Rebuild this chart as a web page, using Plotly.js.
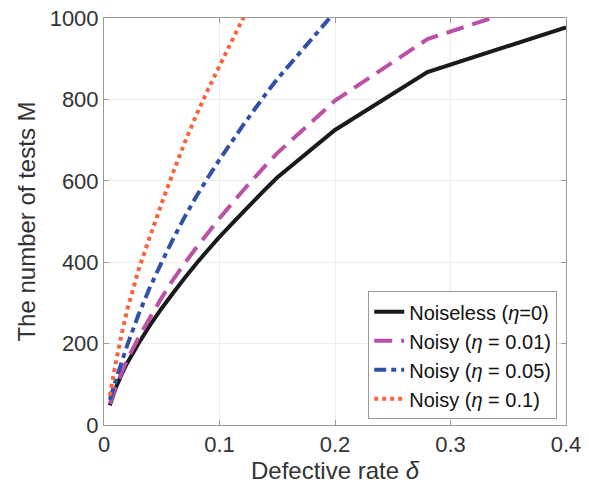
<!DOCTYPE html>
<html>
<head>
<meta charset="utf-8">
<script src="https://cdn.plot.ly/plotly-3.0.1.min.js"></script>
<style>html,body{margin:0;padding:0;background:#fff;}#chart{width:589px;height:485px;}</style>
</head>
<body>
<div id="chart"></div>
<script>
// Defective rate δ sample points and number of tests M per series
const deltaNoiseless = [0.005, 0.01, 0.015, 0.02, 0.03, 0.04, 0.05, 0.06, 0.07, 0.08, 0.09, 0.1, 0.12, 0.14, 0.15, 0.2, 0.28, 0.4];
const mNoiseless     = [48, 90, 123, 152, 201, 246, 287, 325, 362, 397, 430, 462, 522, 580, 608, 725, 867, 977];

const deltaEta001 = [0.005, 0.01, 0.015, 0.02, 0.03, 0.04, 0.05, 0.06, 0.07, 0.08, 0.09, 0.1, 0.12, 0.14, 0.15, 0.2, 0.28, 0.4];
const mEta001     = [52, 92, 127, 160, 215, 265, 313, 358, 398, 436, 472, 508, 575, 638, 668, 797, 948, 1060];

const deltaEta005 = [0.005, 0.01, 0.015, 0.02, 0.03, 0.04, 0.05, 0.06, 0.07, 0.08, 0.09, 0.1, 0.12, 0.14, 0.15, 0.2];
const mEta005     = [62, 108, 152, 195, 272, 340, 400, 458, 512, 562, 608, 652, 735, 813, 850, 1015];

const deltaEta01 = [0.005, 0.01, 0.015, 0.02, 0.03, 0.04, 0.05, 0.06, 0.07, 0.08, 0.09, 0.1, 0.12, 0.14];
const mEta01     = [72, 150, 220, 282, 382, 465, 545, 622, 695, 762, 824, 882, 997, 1100];

const seriesNames = ['Noiseless (<i>η</i>=0)', 'Noisy (<i>η</i> = 0.01)', 'Noisy (<i>η</i> = 0.05)', 'Noisy (<i>η</i> = 0.1)'];
const xTicks = [0, 0.1, 0.2, 0.3, 0.4];
const yTicks = [0, 200, 400, 600, 800, 1000];

const FONT = '"Liberation Sans", Arial, Helvetica, sans-serif';
const traces = [
  {x: deltaNoiseless, y: mNoiseless, name: seriesNames[0], mode: 'lines',
   line: {color: '#1a1a1a', width: 4, dash: 'solid', simplify: false}},
  {x: deltaEta001, y: mEta001, name: seriesNames[1], mode: 'lines',
   line: {color: '#bc4fa8', width: 4, dash: '18px,9px', simplify: false}},
  {x: deltaEta005, y: mEta005, name: seriesNames[2], mode: 'lines',
   line: {color: '#3050aa', width: 4, dash: '12px,5px,5px,5px', simplify: false}},
  {x: deltaEta01, y: mEta01, name: seriesNames[3], mode: 'lines',
   line: {color: '#f5643c', width: 4, dash: '4px,4px', simplify: false}}
];

const axisCommon = {
  showline: true, mirror: 'ticks', linecolor: '#9a9a9a', linewidth: 1,
  ticks: 'inside', ticklen: 5, tickcolor: '#9a9a9a',
  showgrid: true, gridcolor: '#ececec', gridwidth: 1, zeroline: false,
  tickfont: {family: FONT, size: 22, color: '#333'}
};

const layout = {
  width: 589, height: 485,
  margin: {l: 104, r: 23, t: 18, b: 60},
  paper_bgcolor: '#fff', plot_bgcolor: '#fff',
  font: {family: FONT, color: '#333'},
  showlegend: true,
  xaxis: Object.assign({}, axisCommon, {
    range: [0, 0.4], tickvals: xTicks, ticktext: xTicks.map(String),
    title: {text: 'Defective rate <i>δ</i>', font: {family: FONT, size: 24, color: '#333'}, standoff: 0}
  }),
  yaxis: Object.assign({}, axisCommon, {
    range: [0, 1000], tickvals: yTicks, ticktext: yTicks.map(String),
    title: {text: 'The number of tests M', font: {family: FONT, size: 24, color: '#333'}, standoff: 7}
  }),
  legend: {
    x: 0.981, y: 0.014, xanchor: 'right', yanchor: 'bottom',
    bgcolor: '#fff', bordercolor: '#999', borderwidth: 1,
    font: {family: FONT, size: 20, color: '#111'},
    itemwidth: 30, tracegroupgap: 0
  }
};

Plotly.newPlot('chart', traces, layout, {staticPlot: true, displayModeBar: false});
</script>
</body>
</html>
